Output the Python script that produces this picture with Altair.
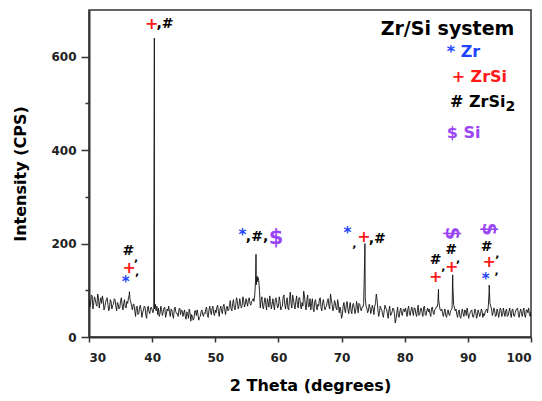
import altair as alt
import pandas as pd

# ---------------- data ----------------
# baseline pattern, sampled every 0.25 degree from 30 to 100
base_start = 30.0
base_step = 0.25
base_y = [
    82, 70, 88, 74, 80, 66, 84, 76, 72,
    78, 64, 80, 70, 62, 76, 68, 82,
    66, 74, 60, 78, 68, 72, 64, 76,
    84, 80, 66, 70,
    56, 64, 48, 62, 58, 52, 66, 46, 60, 54, 62, 58,
    60, 70, 66,
    62, 50, 58, 54, 64, 48, 56, 52, 60, 46, 58, 54, 50, 60, 48, 56, 52,
    44, 54, 40, 52, 48, 36, 56, 46, 50, 42, 54, 48,
    52, 60, 46, 58, 54, 62, 50, 58, 64, 54, 60, 56, 66, 58, 62, 56,
    68, 60, 72, 64, 70, 76, 66, 72, 68, 78, 70, 74, 80, 72, 76, 82,
    90, 112, 128, 100,
    78, 66, 74, 70, 82, 64, 76, 70, 68, 80, 72, 66,
    76, 64, 86, 70, 74, 62, 80, 72, 90, 68, 76, 70, 84, 66, 74, 98, 70, 78, 64, 82,
    72, 60, 76, 66, 70, 82, 62, 74, 68, 64, 78, 66, 92, 70, 62, 74, 58, 70, 64, 40,
    66, 58, 70, 60, 64, 56, 68, 62, 58, 66, 72, 60, 64, 72,
    84, 62, 56, 64, 58, 60,
    66, 92, 58, 52, 60, 48, 56, 62, 50, 58, 46, 54, 60, 30, 52, 44, 56, 50, 58, 54,
    52, 60, 48, 58, 54, 62, 50, 56, 46, 60, 52, 64, 48, 56, 54, 50, 62, 52, 58, 64,
    72, 66, 56, 50,
    54, 46, 52, 48, 56, 62,
    70, 56,
    48, 54, 44, 52, 50, 58, 46, 52, 48, 56, 44, 50, 54, 46, 52, 48, 56, 50, 54, 60,
    68, 72, 60, 52,
    56, 46, 54, 50, 58, 48, 52, 56, 44, 54, 50, 58, 46, 52, 60, 48, 54, 50, 56, 46, 58, 52, 48, 54,
]
# in-between readings, at 30.125, 30.375, ... 99.875
mid_y = [
    64, 90, 60, 86, 70, 92, 62, 84,
    88, 58, 74, 84, 56, 80, 60, 70,
    80, 56, 70, 62, 84, 58, 80, 62,
    72, 90, 74, 58,
    70, 44, 66, 50, 68, 42, 58, 64, 40, 66, 50, 64,
    52, 60, 56, 48,
    44, 66, 46, 62, 42, 60, 66, 44, 58, 40, 64, 50, 44, 62, 58, 44,
    58, 38, 50, 60, 34, 44, 40, 56, 58, 36, 44, 58,
    44, 50, 64, 42, 66, 48, 66, 46, 52, 68, 44, 66, 50, 70, 48, 66,
    58, 78, 56, 80, 58, 84, 60, 82, 62, 86, 64, 82, 66, 84, 68, 78,
    76, 120, 118, 122,
    62, 86, 60, 84, 58, 74, 88, 60, 82, 58, 84, 62,
    86, 58, 66, 90, 60, 84, 58, 96, 62, 82, 60, 88, 62, 84, 60, 66, 88, 58, 90, 66,
    58, 82, 54, 80, 58, 66, 84, 56, 80, 58, 66, 82, 60, 80, 56, 78, 62, 80, 52, 56,
    48, 74, 52, 76, 50, 74, 50, 72, 50, 76, 52, 70, 56, 64,
    150, 66,
    52, 70, 50, 68,
    48, 72, 80, 44, 66, 58, 42, 68, 60, 40, 66, 48, 62, 50, 38, 64, 42, 62, 46, 60,
    62, 44, 66, 46, 64, 46, 62, 44, 68, 48, 62, 44, 66, 46, 62, 60, 44, 64, 48, 60,
    64, 80, 58, 60,
    44, 60, 42, 58, 46, 58,
    110, 62,
    60, 42, 58, 40, 60, 44, 56, 62, 40, 52, 58, 42, 60, 40, 58, 44, 60, 42, 46, 58,
    52, 100, 66, 46,
    62, 44, 60, 42, 62, 44, 62, 44, 60, 46, 62, 42, 60, 44, 58, 62, 42, 60, 44, 62, 42, 58, 62, 44,
]
# diffraction peak maxima
peak_x = [36.4, 40.35, 56.45, 56.62, 73.7, 85.35, 87.6, 93.38]
peak_y = [97, 640, 177, 130, 200, 102, 133, 111]

# phase markers above peaks
ann_sym = ['+', ',#', '*', '+', ',', '#', ',', '*', ',#,', '$', '*', ',', '+', ',#',
           '+', '#', ',', '+', '#', ',', '*', '+', ',', '#', ',']
ann_x = [39.92, 42.04, 35.81, 36.38, 37.6, 36.23, 37.44, 54.28, 56.61, 59.62, 70.91, 72.02, 73.55, 75.66,
         84.91, 84.91, 86.12, 87.44, 87.33, 88.47, 92.83, 93.40, 94.57, 92.97, 94.66]
ann_y = [670, 670, 117, 148, 139, 185, 169, 218, 214, 211, 222, 200, 213, 210,
         129, 165, 149, 149, 186, 168, 124, 160, 141, 193, 177]
# rotated Si markers
si_x = [87.44, 93.35]
si_y = [222, 231]

# legend
leg_text = ['Zr/Si system', '* Zr', '+ ZrSi', '# ZrSi', '2', '$ Si']
leg_x = [86.78, 86.65, 87.43, 87.17, 95.96, 86.65]
leg_y = [659, 610, 556, 503, 492, 437]

x_ticks = [30, 35, 40, 45, 50, 55, 60, 65, 70, 75, 80, 85, 90, 95, 100]
y_ticks = [0, 100, 200, 300, 400, 500, 600]

# ---------------- styles ----------------
BLUE = '#2244ff'
RED = '#ff1a1a'
PURPLE = '#9a45f5'
SYM_COLOR = {'+': RED, '*': BLUE, '$': PURPLE}
SYM_SIZE = {'+': 16, '*': 15, '$': 21, '#': 14, ',#': 14, ',#,': 14, ',': 11}
LEG_COLOR = {'Zr/Si system': 'black', '* Zr': BLUE, '+ ZrSi': RED, '# ZrSi': 'black', '2': 'black', '$ Si': PURPLE}
LEG_SIZE = {'Zr/Si system': 19, '* Zr': 16, '+ ZrSi': 16, '# ZrSi': 16, '2': 14, '$ Si': 16}
FONT = 'DejaVu Sans'

# ---------------- tables ----------------
assert len(base_y) == 281 and len(mid_y) == 280
xs = [base_start + base_step * i for i in range(len(base_y))]
xm = [base_start + base_step * (i + 0.5) for i in range(len(mid_y))]
line_df = pd.DataFrame({'x': xs + xm + peak_x, 'y': base_y + mid_y + peak_y}).sort_values('x')

ann_df = pd.DataFrame({'x': ann_x, 'y': ann_y, 't': ann_sym})
ann_df['c'] = ann_df['t'].map(lambda s: SYM_COLOR.get(s, 'black'))
ann_df['s'] = ann_df['t'].map(lambda s: SYM_SIZE.get(s, 14))

si_df = pd.DataFrame({'x': si_x, 'y': si_y, 't': ['$'] * len(si_x)})

leg_df = pd.DataFrame({'x': leg_x, 'y': leg_y, 't': leg_text})
leg_df['c'] = leg_df['t'].map(LEG_COLOR)
leg_df['s'] = leg_df['t'].map(LEG_SIZE)
leg_df['a'] = ['center', 'left', 'left', 'left', 'left', 'left']

xscale = alt.Scale(domain=[30, 100], nice=False, zero=False)
yscale = alt.Scale(domain=[0, 700], nice=False)

xaxis = alt.Axis(
    title='2 Theta (degrees)', values=x_ticks,
    labelExpr="datum.value % 10 == 0 ? datum.label : ''",
    tickSize={'condition': {'test': 'datum.value % 10 == 0', 'value': 5}, 'value': 4},
    labelPadding=10, titlePadding=14, grid=False,
)
yaxis = alt.Axis(
    title='Intensity (CPS)', values=y_ticks,
    labelExpr="datum.value % 200 == 0 ? datum.label : ''",
    tickSize={'condition': {'test': 'datum.value % 200 == 0', 'value': 8}, 'value': 4},
    labelPadding=5, titlePadding=22, grid=False,
)

line = alt.Chart(line_df).mark_line(color='#111111', strokeWidth=0.9, clip=True).encode(
    x=alt.X('x:Q', scale=xscale, axis=xaxis),
    y=alt.Y('y:Q', scale=yscale, axis=yaxis),
)

ann = alt.Chart(ann_df).mark_text(font=FONT, fontWeight='bold', align='center', baseline='middle').encode(
    x=alt.X('x:Q', scale=xscale), y=alt.Y('y:Q', scale=yscale),
    text='t:N', color=alt.Color('c:N', scale=None), size=alt.Size('s:Q', scale=None),
)

si = alt.Chart(si_df).mark_text(font=FONT, fontWeight='bold', align='center', baseline='middle',
                                angle=90, fontSize=19, color=PURPLE).encode(
    x=alt.X('x:Q', scale=xscale), y=alt.Y('y:Q', scale=yscale), text='t:N',
)

leg_center = alt.Chart(leg_df[leg_df['a'] == 'center']).mark_text(
    font=FONT, fontWeight='bold', align='center', baseline='middle').encode(
    x=alt.X('x:Q', scale=xscale), y=alt.Y('y:Q', scale=yscale),
    text='t:N', color=alt.Color('c:N', scale=None), size=alt.Size('s:Q', scale=None),
)
leg_left = alt.Chart(leg_df[leg_df['a'] == 'left']).mark_text(
    font=FONT, fontWeight='bold', align='left', baseline='middle').encode(
    x=alt.X('x:Q', scale=xscale), y=alt.Y('y:Q', scale=yscale),
    text='t:N', color=alt.Color('c:N', scale=None), size=alt.Size('s:Q', scale=None),
)

chart = alt.layer(line, ann, si, leg_center, leg_left).properties(
    width=442, height=327,
    autosize=alt.AutoSizeParams(type='none'),
    padding={'left': 89, 'top': 10, 'right': 11, 'bottom': 64},
    background='white',
).configure_view(
    stroke='#333333', strokeWidth=1.5,
).configure_axis(
    labelFont=FONT, labelFontWeight='bold', labelFontSize=12, labelColor='#222222',
    titleFont=FONT, titleFontWeight='bold', titleFontSize=16, titleColor='black',
    domainColor='#333333', domainWidth=2, tickColor='#333333', tickWidth=1.5,
)

chart.save('out.html', embed_options={'renderer': 'svg', 'actions': False})
